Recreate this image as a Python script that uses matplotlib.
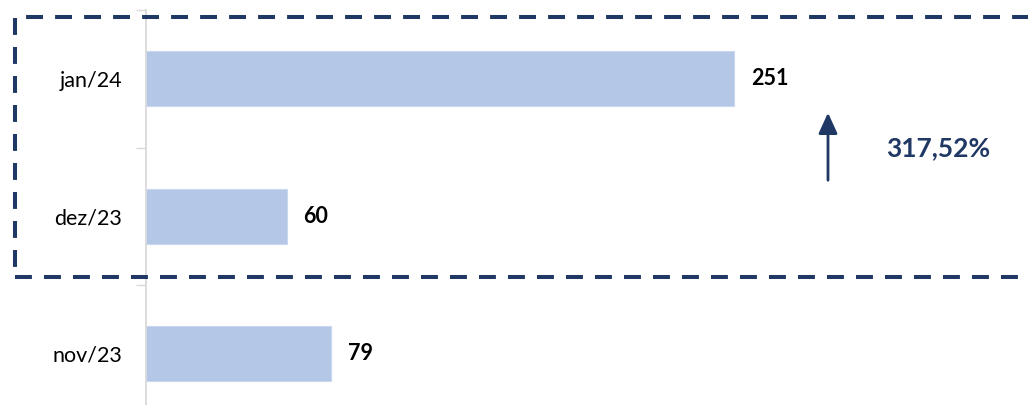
import matplotlib.pyplot as plt
import matplotlib.patches as patches

plt.rcParams['font.family'] = ['Lato', 'DejaVu Sans']

months = ["nov/23", "dez/23", "jan/24"]
values = [79, 60, 251]
growth_label = "317,52%"

bar_color = "#b4c7e7"
navy = "#1f3864"

fig = plt.figure(figsize=(10.28, 4.05), dpi=100)
ax = fig.add_axes([146 / 1028, -17.5 / 405, 882 / 1028, 412.5 / 405])

pos = list(range(len(months)))
ax.barh(pos, values, height=0.4, color=bar_color, edgecolor="#c9d7ef", lw=0.8)

for y, v in zip(pos, values):
    ax.annotate(f"{v}", (v, y), xytext=(12, 0), textcoords="offset points",
                ha="left", va="center", fontsize=15.5, fontweight="bold")

ax.set_xlim(0, 882 / 2.343)
ax.set_ylim(-0.5, 2.5)

ax.set_yticks(pos)
ax.set_yticklabels(months, fontsize=15.5)
ax.tick_params(axis="y", which="major", length=0, pad=17)
ax.set_yticks([0.5, 1.5, 2.5], minor=True)
ax.tick_params(axis="y", which="minor", length=7, width=1, color="#d9d9d9")
ax.set_xticks([])

for side in ["top", "right", "bottom"]:
    ax.spines[side].set_visible(False)
ax.spines["left"].set_color("#d9d9d9")
ax.spines["left"].set_linewidth(1.3)

# dashed highlight box around the last two months
box = patches.Rectangle((15 / 1028, 1 - 277 / 405), 1.1, 260 / 405,
                        transform=fig.transFigure, fill=False,
                        edgecolor=navy, lw=2.9, linestyle=(0, (4.2, 3.0)),
                        clip_on=False)
fig.patches.append(box)

# growth arrow and label
fig.patches.append(patches.FancyArrowPatch(
    (828 / 1028, 1 - 183 / 405), (828 / 1028, 1 - 110 / 405),
    transform=fig.transFigure, arrowstyle="-|>,head_length=7,head_width=3.2",
    mutation_scale=1.8, color=navy, lw=2.0))
fig.text(938 / 1028, 1 - 148 / 405, growth_label, ha="center", va="center",
         fontsize=19, fontweight="bold", color=navy)

fig.savefig("out.png", dpi=100)
